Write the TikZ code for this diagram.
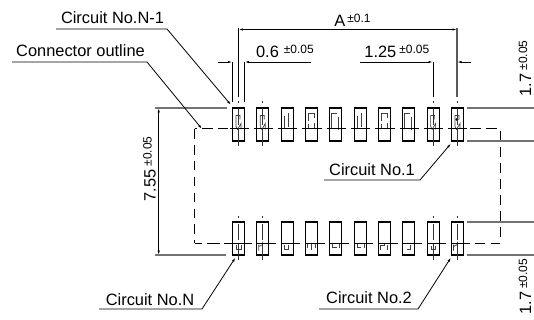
\documentclass[tikz,border=0pt]{standalone}
\usepackage{fontspec}
\setmainfont{Liberation Sans}
\usepackage{tikz}
\usetikzlibrary{arrows.meta}

\newcommand{\tolr}[1]{\raisebox{4pt}{\fontsize{12}{12}\selectfont ±#1}}

\tikzset{
	pat a/.pic={\draw[contact] (-2.5,2) -- (-2.5,-9) -- (1.5,-9) -- (1.5,-5) (-2.5,2) -- (-1,5) -- (2.5,-1) -- (2.5,5);},
	pat b/.pic={\draw[contact] (-2.5,-8) -- (-2.5,4) (1,-11) -- (1,3);},
	pat c/.pic={\draw[contact] (-3,-3) -- (-3,-11) -- (3,-11) -- (3,-6) (-3,0) -- (-3,5) (3,-1) -- (3,5);},
	pat d/.pic={\draw[contact] (-4,5) -- (-4,-11) -- (1,-11) (3,-7) -- (3,6);},
	pat e/.pic={\draw[contact] (-2.5,6) -- (-2.5,11) -- (2.5,11) -- (2.5,6);},
	pat f/.pic={\draw[contact] (-4,6) -- (-4,12) (-4,8) -- (0,6) (0,6) -- (0,3);},
	pat g/.pic={\draw[contact] (-3,6) -- (-3,11) -- (1,11) -- (1,6);},
	pat h/.pic={\draw[contact] (-4,5) -- (-4,9) (0,5) -- (0,11) (4,5) -- (4,9);},
	pat i/.pic={\draw[contact] (-3,5) -- (-3,9) -- (1,9) (4,5) -- (4,9);},
	pat j/.pic={\draw[contact] (-4,11) -- (-4,7) -- (0,7) -- (0,5) (3,6) -- (3,11);},
	pat k/.pic={\draw[contact] (-2,11) -- (2,11) -- (2,6);},
	pat l/.pic={\draw[contact] (-2,7) -- (-2,11) -- (2,11) -- (2,7);},
}

\begin{document}
\begin{tikzpicture}[x=1pt, y=-1pt, >={Latex[length=4.5pt,width=2.4pt]},
		line width=0.8pt,
		pad node/.style={rectangle,draw,line width=1.2pt,minimum width=12pt,minimum height=33pt,inner sep=0pt,outer sep=0pt},
		label node/.style={anchor=base,inner sep=0pt,font=\fontsize{16.4}{18}\selectfont},
		dim node/.style={anchor=base west,inner sep=0pt,font=\fontsize{16.4}{18}\selectfont},
		contact/.style={line width=0.7pt,black!75},
		ext line/.style={line width=1.2pt,black!55},
		outline/.style={line width=1pt},
		centre line/.style={line width=1pt,black!80}]
		
		\useasboundingbox (0,0) rectangle (534,320);
		
		% pads
		\foreach \i/\ptop/\pbot in {1/a/e,2/a/f,3/b/g,4/c/h,5/d/i,6/b/i,7/c/j,8/d/k,9/a/l,10/a/f}{
			\node[pad node] (t\i) at ({238.5+(\i-1)*24.33},124.5) {};
			\node[pad node] (b\i) at ({238.5+(\i-1)*24.33},238.5) {};
			\pic at (t\i.center) {pat \ptop};
			\pic at (b\i.center) {pat \pbot};
		}
		\fill (457,119.5) circle (1.6pt);
		
		% connector outline
		\coordinate (cTL) at (194.7,129);
		\coordinate (cTR) at (500,129);
		\coordinate (cBL) at (194.7,243);
		\coordinate (cBR) at (500,243);
		\draw[outline,dash pattern=on 19.33pt off 5pt] (229.5,129) -- (467,129);
		\draw[outline,dash pattern=on 19.33pt off 5pt] (232.5,243) -- (470,243);
		\draw[outline] (cTL) -- (197,129) (202,129) -- (213,129) (218,129) -- (228,129) (470,129) -- (481,129) (486,129) -- (497,129);
		\draw[outline] (cBL) -- (202,243) (207,243) -- (220,243) (224,243) -- (232,243) (475,243) -- (485,243) (491,243) -- (cBR);
		\draw[outline,dash pattern=on 9.7pt off 6.2pt] (cTL) -- (cBL);
		\draw[outline,dash pattern=on 10pt off 6pt] (500,131) -- (500,238);
		
		% pad centre lines
		\foreach \i in {1,2,9,10}{
			\coordinate (u\i) at (t\i.north |- 0,101);
			\coordinate (v\i) at (t\i.north |- 0,146);
			\coordinate (w\i) at (b\i.north |- 0,216);
			\coordinate (z\i) at (b\i.north |- 0,260);
			\draw[centre line,dash pattern=on 2pt off 5pt on 17pt off 3pt on 18pt] (u\i) -- (v\i);
			\draw[centre line,dash pattern=on 2pt off 6pt on 16pt off 4pt on 16pt] (w\i) -- (z\i);
		}
		
		% extension lines
		\coordinate (eL1) at (155,108);
		\coordinate (eL2) at (227,108);
		\coordinate (eL3) at (155,255);
		\coordinate (eL4) at (226,255);
		\draw[ext line] (eL1) -- (eL2);
		\draw[ext line] (eL3) -- (eL4);
		\foreach \y in {108,141,222,255}{
			\coordinate (eR\y) at (467,\y);
			\coordinate (eS\y) at (534,\y);
			\draw[ext line] (eR\y) -- (eS\y);
		}
		
		% dimensions
		\coordinate (aL) at (238.5,28);
		\coordinate (aR) at (457,28);
		\coordinate (aLb) at (238.5,97);
		\coordinate (aRb) at (457,97);
		\draw (aL) -- (aLb);
		\draw[line width=1.2pt,black!65] (aR) -- (aRb);
		\draw[<->] (238.5,29.5) -- (457,29.5);
		\node[dim node] (dimA) at (334,26.7) {A\hspace{2pt}\tolr{0.1}};
		
		\coordinate (pL) at (232.5,62);
		\coordinate (pR) at (244.5,62);
		\coordinate (pLb) at (232.5,102);
		\coordinate (pRb) at (244.5,102);
		\coordinate (pLe) at (218,62);
		\coordinate (pRe) at (310.5,62);
		\draw (pL) -- (pLb);
		\draw (pR) -- (pRb);
		\draw[->] (pLe) -- (pL);
		\draw[->] (pRe) -- (pR);
		\node[dim node] (dimP) at (255.7,58) {0.6\hspace{5pt}\tolr{0.05}};
		
		\coordinate (qL) at (433,62);
		\coordinate (qR) at (457,62);
		\coordinate (qLb) at (433,97);
		\coordinate (qLe) at (360,62);
		\coordinate (qRe) at (471,62);
		\draw (qL) -- (qLb);
		\draw[->] (qLe) -- (qL);
		\draw[->] (qRe) -- (qR);
		\node[dim node] (dimQ) at (364,58) {1.25\hspace{3pt}\tolr{0.05}};
		
		\coordinate (hT) at (158.7,108);
		\coordinate (hB) at (158.7,255);
		\draw[<->] (hT) -- (hB);
		\node[dim node,rotate=90] (dimH) at (155.5,201.7) {7.55\hspace{3pt}\tolr{0.05}};
		\node[dim node,rotate=90] (dimT) at (531,96.7) {1.7\hspace{3pt}\tolr{0.05}};
		\node[dim node,rotate=90] (dimU) at (531,315) {1.7\hspace{3pt}\tolr{0.05}};
		
		% leaders
		\node[label node] (nN1) at (112.5,24) {Circuit No.N-1};
		\node[label node] (nCO) at (80.5,57) {Connector outline};
		\node[label node] (nC1) at (372,175.7) {Circuit No.1};
		\node[label node] (nC2) at (369,303) {Circuit No.2};
		\node[label node] (nCN) at (150,305) {Circuit No.N};
		
		\coordinate (lN1) at (56,29);
		\coordinate (kN1) at (167,29);
		\coordinate (lCO) at (12,62);
		\coordinate (kCO) at (147,62);
		\coordinate (lC1) at (324,180);
		\coordinate (kC1) at (420,180);
		\coordinate (lC2) at (319,309);
		\coordinate (kC2) at (418,309);
		\coordinate (lCN) at (99,309);
		\coordinate (kCN) at (202,309);
		
		\draw[->] (lN1) -- (kN1) -- (231,105);
		\draw[->] (lCO) -- (kCO) -- (202,129);
		\draw[->] (lC1) -- (kC1) -- (451,143.5);
		\draw[->] (lC2) -- (kC2) -- (451,257.5);
		\draw[->] (lCN) -- (kCN) -- (235.5,257.5);
		\end{tikzpicture}
\end{document}
